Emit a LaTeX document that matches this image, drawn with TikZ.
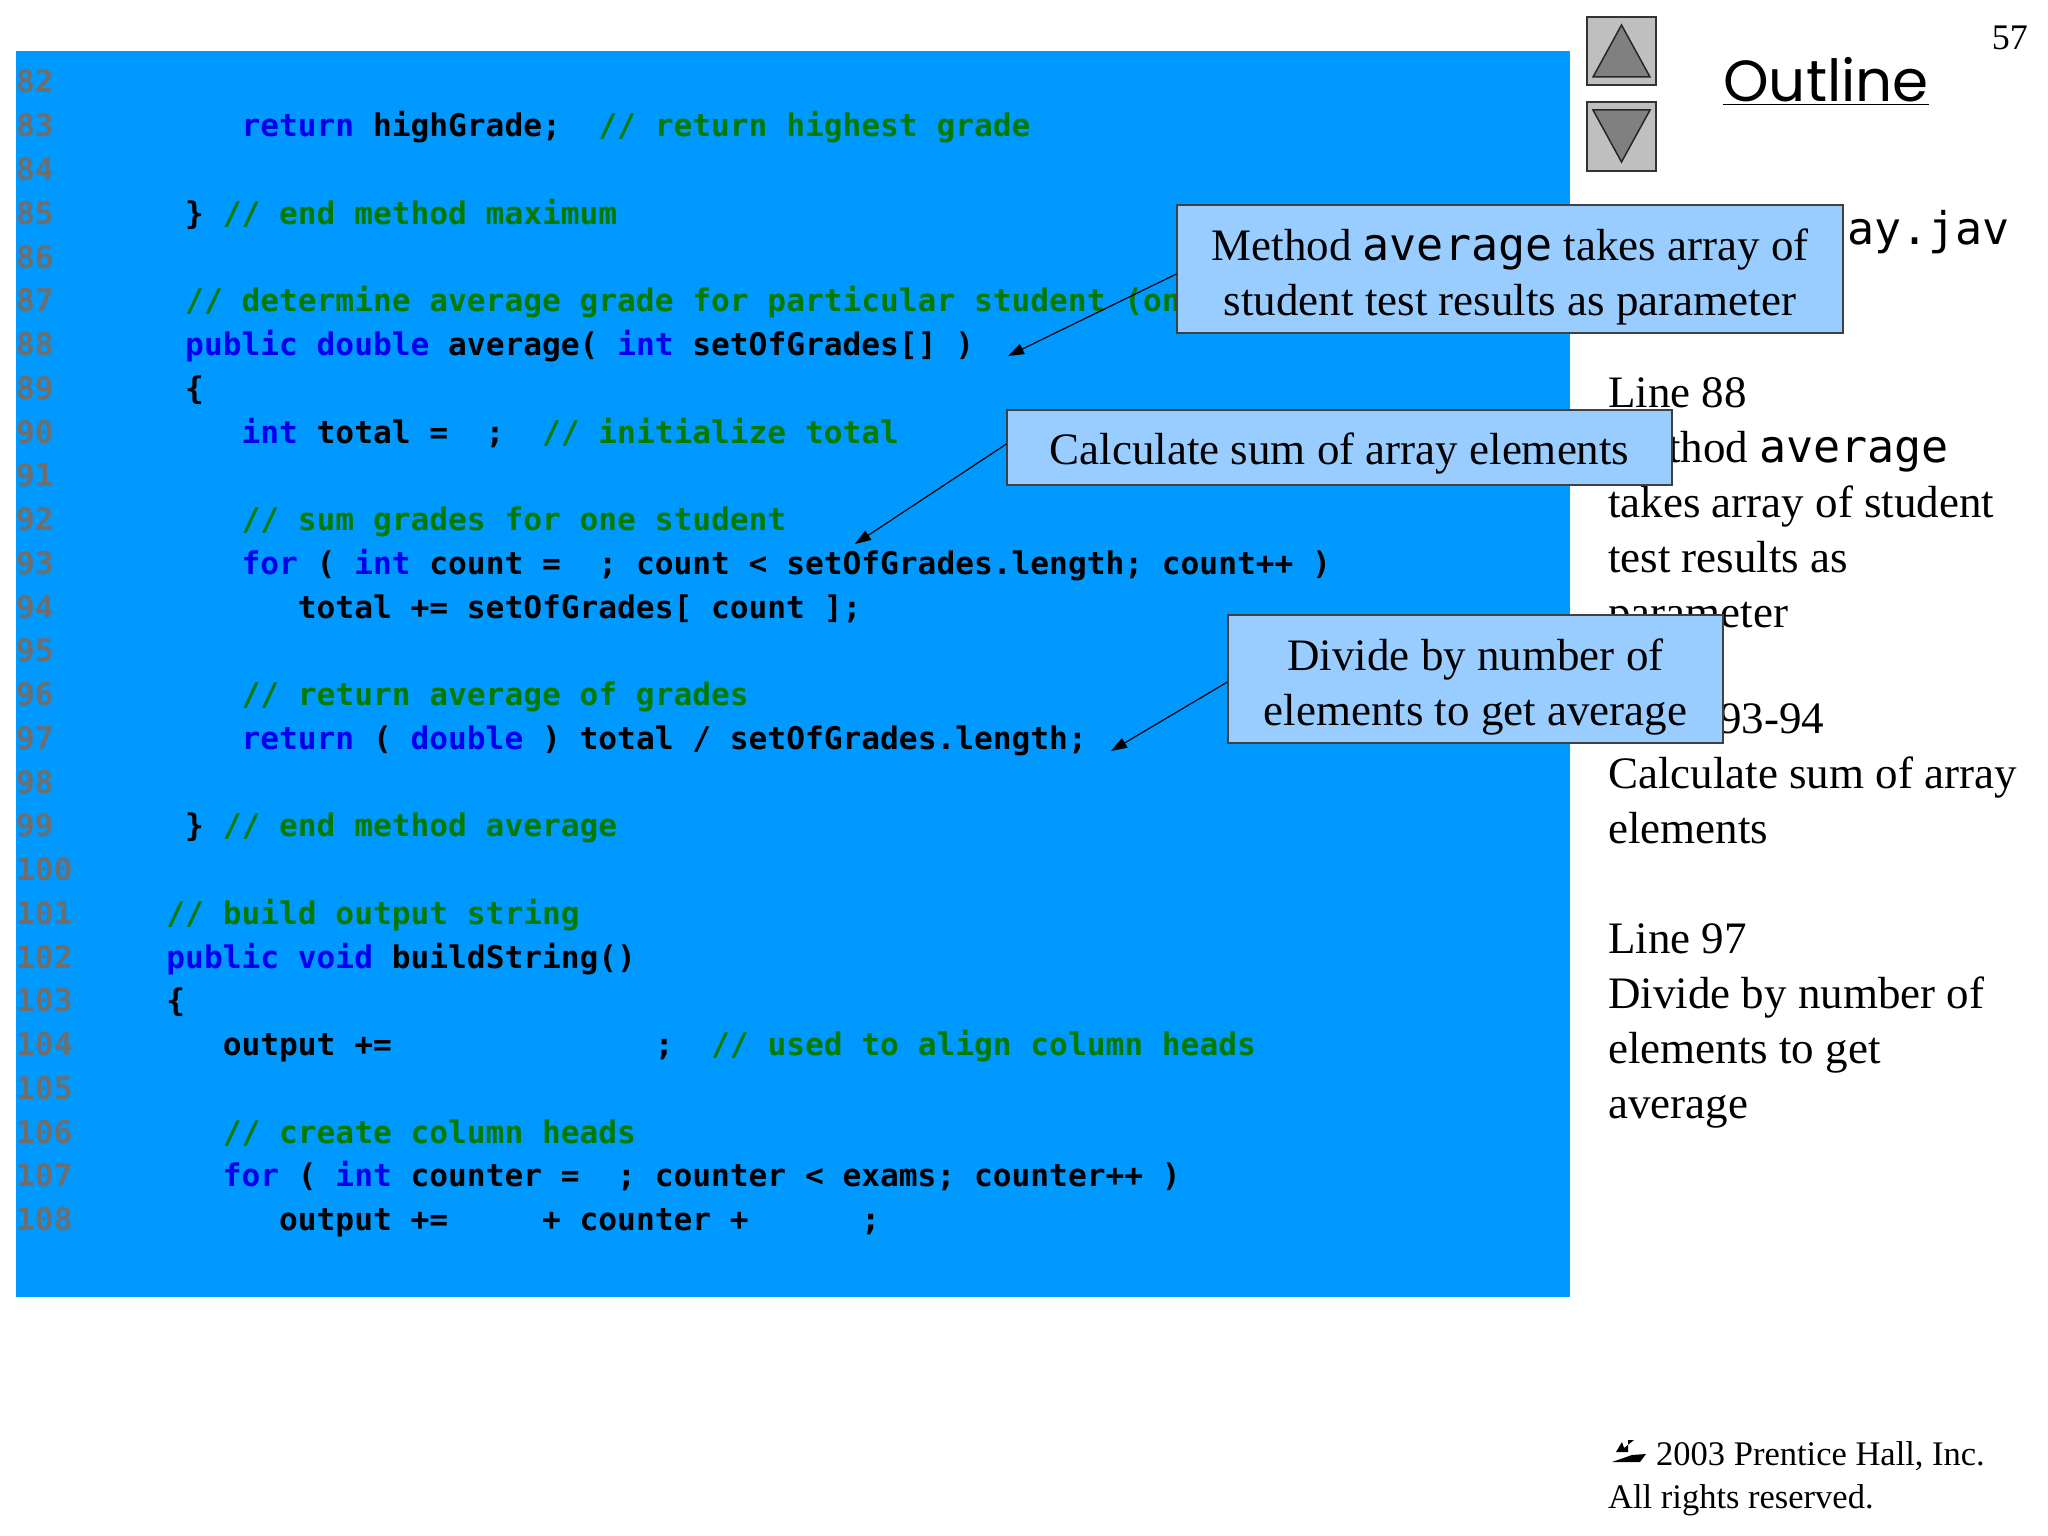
\documentclass[tikz,border=0pt]{standalone}
\usepackage{fontspec}
\setmainfont{Liberation Serif}
\setmonofont{DejaVu Sans Mono}
\newfontfamily\outfont{Poppins}
\usetikzlibrary{arrows.meta}
\definecolor{bg}{HTML}{0099FF}
\definecolor{kwc}{HTML}{0000EE}
\definecolor{cmc}{HTML}{007A00}
\definecolor{lnc}{HTML}{6E6E6E}
\definecolor{boxc}{HTML}{99CCFF}
\newcommand{\kw}[1]{\textcolor{kwc}{#1}}
\newcommand{\cm}[1]{\textcolor{cmc}{#1}}
\tikzset{
  lnum/.style={anchor=base west, inner sep=0pt, text=lnc, font=\fontsize{31.2}{36}\ttfamily\bfseries},
  code/.style={anchor=base west, inner sep=0pt, font=\fontsize{31.2}{36}\ttfamily\bfseries},
  callout/.style={draw=black!75, line width=1.2pt, fill=boxc, inner sep=0pt},
  callouttext/.style={align=center, font=\fontsize{45}{55}\selectfont, inner sep=0pt},
  note/.style={anchor=base west, inner sep=0pt, font=\fontsize{45}{55}\selectfont},
  pointer/.style={draw=black, line width=1.2pt, -{Triangle[length=16pt,width=11pt]}},
  navbtn/.style={draw=black!80, line width=1.5pt, fill=black!25}
}
\newcommand{\cl}[3]{%
  \node[lnum] (n#1) at (16,{82+(#1-82)*43.75+11}) {#1};
  \node[code] (c#1) at ({16+#2*18.78},{82+(#1-82)*43.75+11}) {#3};}
\newcommand{\el}[1]{\node[lnum] (n#1) at (16,{82+(#1-82)*43.75+11}) {#1};}
\begin{document}
\begin{tikzpicture}[x=1pt,y=-1pt]
\useasboundingbox (0,0) rectangle (2048,1536);
\fill[bg] (16,51) rectangle (1570,1297);
\el{82}
\cl{83}{12}{\kw{return}~highGrade;~~\cm{// return highest grade}}
\el{84}
\cl{85}{9}{\}~\cm{// end method maximum}}
\el{86}
\cl{87}{9}{\cm{// determine average grade for particular student (one}}
\cl{88}{9}{\kw{public}~\kw{double}~average(~\kw{int}~setOfGrades[]~)}
\cl{89}{9}{\{}
\cl{90}{12}{\kw{int}~total~=~~;~~\cm{// initialize total}}
\el{91}
\cl{92}{12}{\cm{// sum grades for one student}}
\cl{93}{12}{\kw{for}~(~\kw{int}~count~=~~;~count~<~setOfGrades.length;~count++~)}
\cl{94}{15}{total~+=~setOfGrades[~count~];}
\el{95}
\cl{96}{12}{\cm{// return average of grades}}
\cl{97}{12}{\kw{return}~(~\kw{double}~)~total~/~setOfGrades.length;}
\el{98}
\cl{99}{9}{\}~\cm{// end method average}}
\el{100}
\cl{101}{8}{\cm{// build output string}}
\cl{102}{8}{\kw{public}~\kw{void}~buildString()}
\cl{103}{8}{\{}
\cl{104}{11}{output~+=~~~~~~~~~~~~~~;~~\cm{// used to align column heads}}
\el{105}
\cl{106}{11}{\cm{// create column heads}}
\cl{107}{11}{\kw{for}~(~\kw{int}~counter~=~~;~counter~<~exams;~counter++~)}
\cl{108}{14}{output~+=~~~~~+~counter~+~~~~~~;}

% right column
\node[anchor=base west, inner sep=0pt, font=\fontsize{45}{55}\ttfamily] (fname) at (1847,244) {ay.jav};
\node[note] (t1) at (1608,407) {Line 88};
\node[note] (t2) at (1608,462) {Method \texttt{average}};
\node[note] (t3) at (1608,517) {takes array of student};
\node[note] (t4) at (1608,572) {test results as};
\node[note] (t5) at (1608,627) {parameter};
\node[note] (t6) at (1608,733) {Lines 93-94};
\node[note] (t7) at (1608,788) {Calculate sum of array};
\node[note] (t8) at (1608,843) {elements};
\node[note] (t9) at (1608,953) {Line 97};
\node[note] (t10) at (1608,1008) {Divide by number of};
\node[note] (t11) at (1608,1063) {elements to get};
\node[note] (t12) at (1608,1118) {average};

% callouts
\node[callout, minimum width=666, minimum height=128] (b1) at (1510,269) {};
\node[callouttext] (b1t) at (1510,277) {Method \texttt{average} takes array of\\student test results as parameter};
\node[callout, minimum width=665, minimum height=75] (b2) at (1339.5,447.5) {};
\node[callouttext] (b2t) at (1339.5,454) {Calculate sum of array elements};
\node[callout, minimum width=495, minimum height=128] (b3) at (1475.5,679) {};
\node[callouttext] (b3t) at (1475.5,687) {Divide by number of\\elements to get average};
\coordinate (p1) at (1008,356);
\coordinate (p2) at (855,544);
\coordinate (p3) at (1111,751);
\draw[pointer] (b1.west |- 0,274) -- (p1);
\draw[pointer] (b2.west |- 0,444) -- (p2);
\draw[pointer] (b3.west |- 0,682) -- (p3);

% navigation
\draw[navbtn] (1587,17) rectangle (1656,85);
\draw[black!85, fill=black!50, line width=1.5pt] (1593,77) -- (1621.5,25) -- (1650,77) -- cycle;
\draw[navbtn] (1587,102) rectangle (1656,171);
\draw[black!85, fill=black!50, line width=1.5pt] (1593,110) -- (1621.5,162) -- (1650,110) -- cycle;
\node[anchor=base, inner sep=0pt, font=\fontsize{58}{60}\outfont] (outl) at (1826,102) {\underline{Outline}};
\node[anchor=base east, inner sep=0pt, font=\fontsize{36}{40}\selectfont] (pg) at (2028,50) {57};

% copyright
\fill[black] (1612,1462) -- (1640,1462) -- (1646,1454) -- (1632,1455) -- cycle;
\fill[black] (1616,1452) -- (1628,1452) -- (1628,1440) -- (1634,1440) -- (1624,1448) -- (1622,1442) -- cycle;
\node[anchor=base west, inner sep=0pt, font=\fontsize{34.5}{40}\selectfont] (cp1) at (1656,1465) {2003 Prentice Hall, Inc.};
\node[anchor=base west, inner sep=0pt, font=\fontsize{34.5}{40}\selectfont] (cp2) at (1608,1508) {All rights reserved.};
\end{tikzpicture}
\end{document}
